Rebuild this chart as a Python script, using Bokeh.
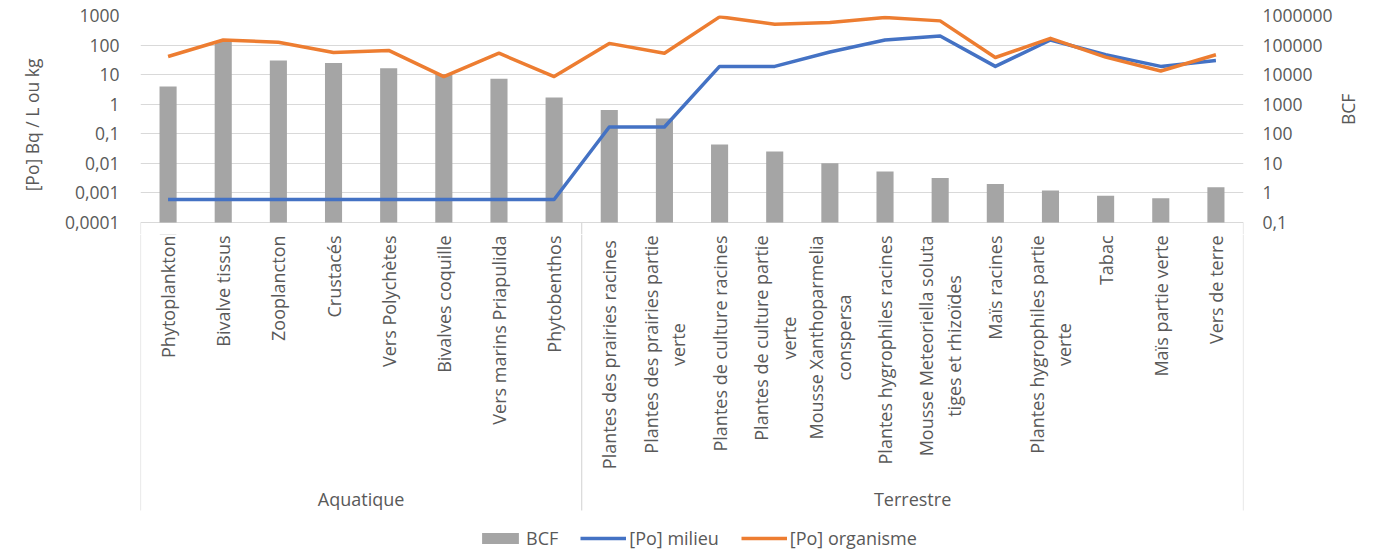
from math import pi, log10

from bokeh.core.properties import value
from bokeh.embed import file_html
from bokeh.layouts import column
from bokeh.models import (ColumnDataSource, CustomJSTickFormatter, FactorRange,
                          FixedTicker, Grid, Legend, LegendItem, LogAxis,
                          LogScale, Range1d)
from bokeh.plotting import figure
from bokeh.resources import INLINE

# ---- data -----------------------------------------------------------------
categories = [
    "Phytoplankton", "Bivalve tissus", "Zooplancton", "Crustacés",
    "Vers Polychètes", "Bivalves coquille", "Vers marins Priapulida",
    "Phytobenthos",
    "Plantes des prairies  racines", "Plantes des prairies partie verte",
    "Plantes de culture racines", "Plantes de culture partie verte",
    "Mousse Xanthoparmelia conspersa", "Plantes hygrophiles racines",
    "Mousse Meteoriella soluta tiges et rhizoïdes", "Maïs racines",
    "Plantes hygrophiles partie verte", "Tabac", "Maïs partie verte",
    "Vers de terre",
]
category_labels = [
    "Phytoplankton", "Bivalve tissus", "Zooplancton", "Crustacés",
    "Vers Polychètes", "Bivalves coquille", "Vers marins Priapulida",
    "Phytobenthos",
    "Plantes des prairies  racines", "Plantes des prairies partie\nverte",
    "Plantes de culture racines", "Plantes de culture partie\nverte",
    "Mousse Xanthoparmelia\nconspersa", "Plantes hygrophiles racines",
    "Mousse Meteoriella soluta\ntiges et rhizoïdes", "Maïs racines",
    "Plantes hygrophiles partie\nverte", "Tabac", "Maïs partie verte",
    "Vers de terre",
]
groups = ["Aquatique", "Terrestre"]
group_sizes = [8, 12]

# bioconcentration factor (right axis)
bcf = [4000, 135000, 30000, 25000, 16500, 10500, 7200, 1700,
       640, 330, 43, 25, 10, 5.3, 3.2, 2.0, 1.2, 0.81, 0.66, 1.56]
# [Po] in the medium and in the organism, Bq/L or Bq/kg (left axis)
po_milieu = [0.0006, 0.0006, 0.0006, 0.0006, 0.0006, 0.0006, 0.0006, 0.0006,
             0.17, 0.17, 19, 19, 58, 148, 203, 19, 148, 47, 19, 30]
po_organisme = [41, 148, 125, 56, 66, 8.6, 53, 8.6,
                114, 53, 900, 506, 576, 855, 658, 38, 169, 39, 13.3, 47]

conc_ticks = [0.0001, 0.001, 0.01, 0.1, 1, 10, 100, 1000]
bcf_ticks = [0.1, 1, 10, 100, 1000, 10000, 100000, 1000000]

# ---- layout -----------------------------------------------------------------
W, H = 1374, 553
LEFT, RIGHT, TOP = 140, 131, 15
VALUE_H = 207                 # value area, from the top tick down to the axis line
OVERHANG = 12                 # value plot continues a little below the axis line
TOP_H = TOP + VALUE_H + OVERHANG
BOTTOM_H = H - TOP_H
DECADE = VALUE_H / (len(conc_ticks) - 1)
BOX_DEPTH = 288               # depth of the category box below the axis line

TEXT = "#595959"
GRID = "#D9D9D9"
FONT = "Open Sans"

x_range = FactorRange(factors=categories, range_padding=0)


def log_range(ticks):
    return Range1d(10 ** (log10(ticks[0]) - OVERHANG / DECADE), ticks[-1])


# ---- value plot -------------------------------------------------------------
p = figure(
    width=W, height=TOP_H, x_range=x_range,
    y_range=log_range(conc_ticks), y_axis_type="log",
    x_axis_location=None, y_axis_location=None,
    toolbar_location=None, output_backend="svg",
    min_border_left=LEFT, min_border_right=RIGHT,
    min_border_top=TOP, min_border_bottom=0,
    outline_line_color=None,
    background_fill_color="white", border_fill_color="white",
)
p.center = [r for r in p.center if not isinstance(r, Grid)]
p.extra_y_ranges = {"bcf": log_range(bcf_ticks)}
p.extra_y_scales = {"bcf": LogScale()}

fmt = CustomJSTickFormatter(
    code="return String(Number(tick.toPrecision(6))).replace('.', ',');")


def value_axis(ticks, standoff, title, title_standoff, range_name="default"):
    return LogAxis(
        y_range_name=range_name, ticker=FixedTicker(ticks=ticks), formatter=fmt,
        axis_line_color=None, major_tick_line_color=None,
        minor_tick_line_color=None, major_tick_in=0, major_tick_out=0,
        minor_tick_in=0, minor_tick_out=0,
        major_label_standoff=standoff,
        major_label_text_font=FONT, major_label_text_font_size="17.5px",
        major_label_text_color=TEXT,
        axis_label=title, axis_label_standoff=title_standoff,
        axis_label_text_font=FONT, axis_label_text_font_size="17.5px",
        axis_label_text_font_style="normal", axis_label_text_color=TEXT,
    )


left_axis = value_axis(conc_ticks, 21, "[Po] Bq / L ou kg", 18)
right_axis = value_axis(bcf_ticks, 19, "BCF", 12, "bcf")
# titles on both sides read from bottom to top
if "axis_label_orientation" in right_axis.properties():
    right_axis.axis_label_orientation = pi / 2
p.add_layout(left_axis, "left")
p.add_layout(right_axis, "right")
p.add_layout(Grid(dimension=1, ticker=FixedTicker(ticks=conc_ticks),
                  grid_line_color=GRID, grid_line_width=1))

src = ColumnDataSource(dict(cat=categories, bcf=bcf,
                            milieu=po_milieu, organisme=po_organisme))

bar_style = dict(fill_color="#A5A5A5", line_color=None)
milieu_style = dict(line_color="#4472C4", line_width=3.5, line_join="round")
organisme_style = dict(line_color="#ED7D31", line_width=3.5, line_join="round")

p.vbar(x="cat", top="bcf", bottom=bcf_ticks[0], width=0.31, source=src,
       y_range_name="bcf", **bar_style)
p.line("cat", "milieu", source=src, **milieu_style)
p.line("cat", "organisme", source=src, **organisme_style)

bounds = [0]
for n in group_sizes:
    bounds.append(bounds[-1] + n)
edge_x = [(categories[b], -0.5) for b in bounds[:-1]] + [(categories[-1], 0.5)]
p.segment(x0=edge_x, x1=edge_x, y0=conc_ticks[0], y1=p.y_range.start,
          line_color=GRID, line_width=1.2)

# ---- category box and legend ----------------------------------------------
# y in pixels below the axis line (negative downwards)
q = figure(
    width=W, height=BOTTOM_H, x_range=x_range,
    y_range=Range1d(-(H - TOP - VALUE_H), -OVERHANG),
    x_axis_location=None, y_axis_location=None,
    toolbar_location=None, output_backend="svg",
    min_border_left=LEFT, min_border_right=RIGHT,
    min_border_top=0, min_border_bottom=0,
    outline_line_color=None,
    background_fill_color="white", border_fill_color="white",
)
q.center = [r for r in q.center if not isinstance(r, Grid)]

q.segment(x0=edge_x, x1=edge_x, y0=-OVERHANG, y1=-BOX_DEPTH,
          line_color=GRID, line_width=1.2)

q.text(x=categories, y=-OVERHANG - 1, text=category_labels, angle=pi / 2,
       text_align="center", text_baseline="middle",
       anchor=value("center_right"),
       text_font=value(FONT), text_font_size="18px", text_color=TEXT,
       text_line_height=1.15)

group_x = []
for start, n in zip(bounds[:-1], group_sizes):
    mid = start + n / 2
    k = int(mid)
    group_x.append((categories[k], mid - k - 0.5) if k < len(categories)
                   else (categories[-1], 0.5))
q.text(x=group_x, y=-276, text=groups, text_align="center",
       text_baseline="middle", text_font=value(FONT),
       text_font_size="18px", text_color=TEXT)

# legend keys: same styles as the series, anchored on the axis line
# (above this panel's frame, so only their legend swatches show)
key_src = ColumnDataSource(dict(x=[categories[0]], y=[0]))
k_bar = q.vbar(x="x", top="y", bottom="y", width=0.3, source=key_src, **bar_style)
k_mil = q.line("x", "y", source=key_src, **milieu_style)
k_org = q.line("x", "y", source=key_src, **organisme_style)

legend = Legend(
    items=[LegendItem(label="BCF", renderers=[k_bar]),
           LegendItem(label="[Po] milieu", renderers=[k_mil]),
           LegendItem(label="[Po] organisme", renderers=[k_org])],
    orientation="horizontal", location=(337, 3),
    glyph_width=46, glyph_height=14, label_height=20, label_standoff=3,
    spacing=22, padding=0, margin=0,
    border_line_color=None, background_fill_alpha=0,
    label_text_font=FONT, label_text_font_size="18px",
    label_text_color=TEXT,
)
q.add_layout(legend)

layout = column(p, q, spacing=0)
open("out.html", "w").write(file_html(layout, INLINE))
